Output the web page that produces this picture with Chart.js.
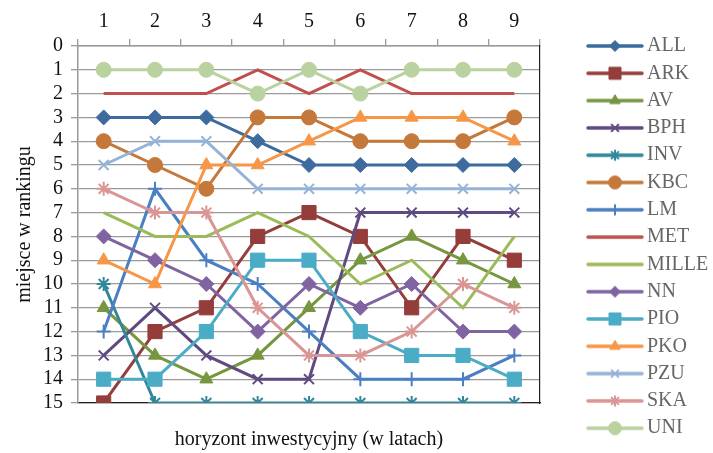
<!DOCTYPE html>
<html lang="pl">
<head>
<meta charset="utf-8">
<title>Miejsce w rankingu a horyzont inwestycyjny</title>
<script src="https://cdn.jsdelivr.net/npm/chart.js@4/dist/chart.umd.min.js"></script>
<style>
  html, body { margin: 0; padding: 0; background: #ffffff; }
  #wrap { width: 713px; height: 453px; position: relative; }
</style>
</head>
<body>
<div id="wrap"><canvas id="chart" width="713" height="453"></canvas></div>
<script>
// Investment horizon in years (x categories)
const years = ['1', '2', '3', '4', '5', '6', '7', '8', '9'];

// Ranking position of each fund company per horizon
const ALL   = [3, 3, 3, 4, 5, 5, 5, 5, 5];
const ARK   = [15, 12, 11, 8, 7, 8, 11, 8, 9];
const AV    = [11, 13, 14, 13, 11, 9, 8, 9, 10];
const BPH   = [13, 11, 13, 14, 14, 7, 7, 7, 7];
const INV   = [10, 15, 15, 15, 15, 15, 15, 15, 15];
const KBC   = [4, 5, 6, 3, 3, 4, 4, 4, 3];
const LM    = [12, 6, 9, 10, 12, 14, 14, 14, 13];
const MET   = [2, 2, 2, 1, 2, 1, 2, 2, 2];
const MILLE = [7, 8, 8, 7, 8, 10, 9, 11, 8];
const NN    = [8, 9, 10, 12, 10, 11, 10, 12, 12];
const PIO   = [14, 14, 12, 9, 9, 12, 13, 13, 14];
const PKO   = [9, 10, 5, 5, 4, 3, 3, 3, 4];
const PZU   = [5, 4, 4, 6, 6, 6, 6, 6, 6];
const SKA   = [6, 7, 7, 11, 13, 13, 12, 10, 11];
const UNI   = [1, 1, 1, 2, 1, 2, 1, 1, 1];

// Rank axis ticks
const rankTicks = [0, 1, 2, 3, 4, 5, 6, 7, 8, 9, 10, 11, 12, 13, 14, 15];

const FONT = "'Liberation Serif', 'Times New Roman', serif";

// name, values, colour, marker style, marker radius (chart), marker radius (legend), marker line width
const seriesList = [
  ['ALL',   ALL,   '#3D6B9E', 'rectRot',  7.5, 5.5, 1],
  ['ARK',   ARK,   '#943D3B', 'rect',     10,  8.5, 1],
  ['AV',    AV,    '#76963F', 'triangle', 7.5, 6,   1],
  ['BPH',   BPH,   '#5F4B82', 'crossRot', 7,   5.5, 2],
  ['INV',   INV,   '#31879B', 'star',     7,   5.5, 2],
  ['KBC',   KBC,   '#C4783A', 'circle',   7.5, 6.5, 1],
  ['LM',    LM,    '#4A7FC1', 'cross',    7,   5.5, 2],
  ['MET',   MET,   '#C0504D', false,      0,   0,   0],
  ['MILLE', MILLE, '#9BBB59', false,      0,   0,   0],
  ['NN',    NN,    '#8064A2', 'rectRot',  7.5, 5.5, 1],
  ['PIO',   PIO,   '#4BACC6', 'rect',     10,  8.5, 1],
  ['PKO',   PKO,   '#F79646', 'triangle', 7.5, 6,   1],
  ['PZU',   PZU,   '#95B3D7', 'crossRot', 7,   5.5, 2],
  ['SKA',   SKA,   '#D99694', 'star',     7,   5.5, 2],
  ['UNI',   UNI,   '#B9D2A0', 'circle',   7.5, 6.5, 1]
];

// Small legend swatch: a line segment with the series marker in its middle
function legendSwatch(color, style, radius, markerWidth) {
  const c = document.createElement('canvas');
  c.width = 58;
  c.height = 22;
  const g = c.getContext('2d');
  g.strokeStyle = color;
  g.fillStyle = color;
  g.lineCap = 'round';
  g.lineWidth = 3.5;
  g.beginPath();
  g.moveTo(2, 11);
  g.lineTo(56, 11);
  g.stroke();
  if (style && Chart.helpers && Chart.helpers.drawPoint) {
    g.lineWidth = markerWidth;
    g.lineCap = 'butt';
    Chart.helpers.drawPoint(g, { pointStyle: style, radius: radius, borderWidth: markerWidth, rotation: 0 }, 29, 11);
  }
  return c;
}

const n = seriesList.length;
const datasets = seriesList.map(function (s, i) {
  return {
    label: s[0],
    data: s[1],
    borderColor: s[2],
    backgroundColor: s[2],
    pointBackgroundColor: s[2],
    pointBorderColor: s[2],
    pointStyle: s[3] || 'circle',
    pointRadius: s[4],
    pointHoverRadius: s[4],
    pointBorderWidth: s[6],
    borderWidth: 3,
    tension: 0,
    fill: false,
    xAxisID: 'x',
    yAxisID: 'y',
    order: n - i,           // later series are painted on top
    swatch: legendSwatch(s[2], s[3], s[5], s[6])
  };
});

const GRID = '#9A9A9A';

new Chart(document.getElementById('chart'), {
  type: 'line',
  data: { labels: years, datasets: datasets },
  options: {
    responsive: false,
    animation: false,
    layout: { padding: { left: 0, right: 0, top: 11, bottom: 0 } },
    plugins: {
      tooltip: { enabled: false },
      legend: {
        position: 'right',
        align: 'start',
        maxWidth: 127.3,
        title: { display: true, text: '', font: { size: 10 }, padding: { top: 5.7, bottom: 0 } },
        labels: {
          usePointStyle: true,
          pointStyleWidth: 44,
          padding: 7.3,
          color: '#111',
          font: { family: FONT, size: 20 },
          generateLabels: function (chart) {
            return chart.data.datasets.map(function (ds, i) {
              return {
                text: ds.label,
                datasetIndex: i,
                pointStyle: ds.swatch,
                fillStyle: ds.borderColor,
                strokeStyle: ds.borderColor,
                lineWidth: 0,
                hidden: !chart.isDatasetVisible(i)
              };
            });
          }
        }
      }
    },
    scales: {
      x: {
        type: 'category',
        position: 'top',
        offset: true,
        grid: { display: true, drawOnChartArea: false, offset: true, tickLength: 7, color: GRID, lineWidth: 1.3 },
        border: { display: true, color: GRID, width: 1.5 },
        ticks: { color: '#111', padding: 5, font: { family: FONT, size: 20 }, maxRotation: 0 },
        afterFit: function (scale) { scale.height = 35; }
      },
      x2: {
        type: 'category',
        position: 'bottom',
        labels: years,
        offset: true,
        grid: { display: false },
        border: { display: true, color: '#222', width: 1.2 },
        ticks: { display: false },
        title: {
          display: true,
          text: 'horyzont inwestycyjny (w latach)',
          color: '#111',
          font: { family: FONT, size: 20 },
          padding: { top: 4, bottom: 1 }
        },
        afterFit: function (scale) { scale.height = 50; }
      },
      y: {
        type: 'linear',
        position: 'left',
        reverse: true,
        min: 0,
        max: 15,
        afterBuildTicks: function (scale) {
          scale.ticks = rankTicks.map(function (v) { return { value: v }; });
        },
        grid: { display: true, color: GRID, lineWidth: 1.3, tickLength: 7, drawTicks: true },
        border: { display: true, color: GRID, width: 1.5 },
        ticks: { color: '#111', padding: 8, autoSkip: false, font: { family: FONT, size: 20 } },
        title: {
          display: true,
          text: 'miejsce w rankingu',
          color: '#111',
          font: { family: FONT, size: 20 },
          padding: { top: 13, bottom: 0 }
        },
        afterFit: function (scale) { scale.width = 78; }
      },
      y2: {
        type: 'linear',
        position: 'right',
        reverse: true,
        min: 0,
        max: 15,
        grid: { display: false },
        border: { display: true, color: '#222', width: 1.2 },
        ticks: { display: false },
        afterFit: function (scale) { scale.width = 45.7; }
      }
    }
  }
});
</script>
</body>
</html>
